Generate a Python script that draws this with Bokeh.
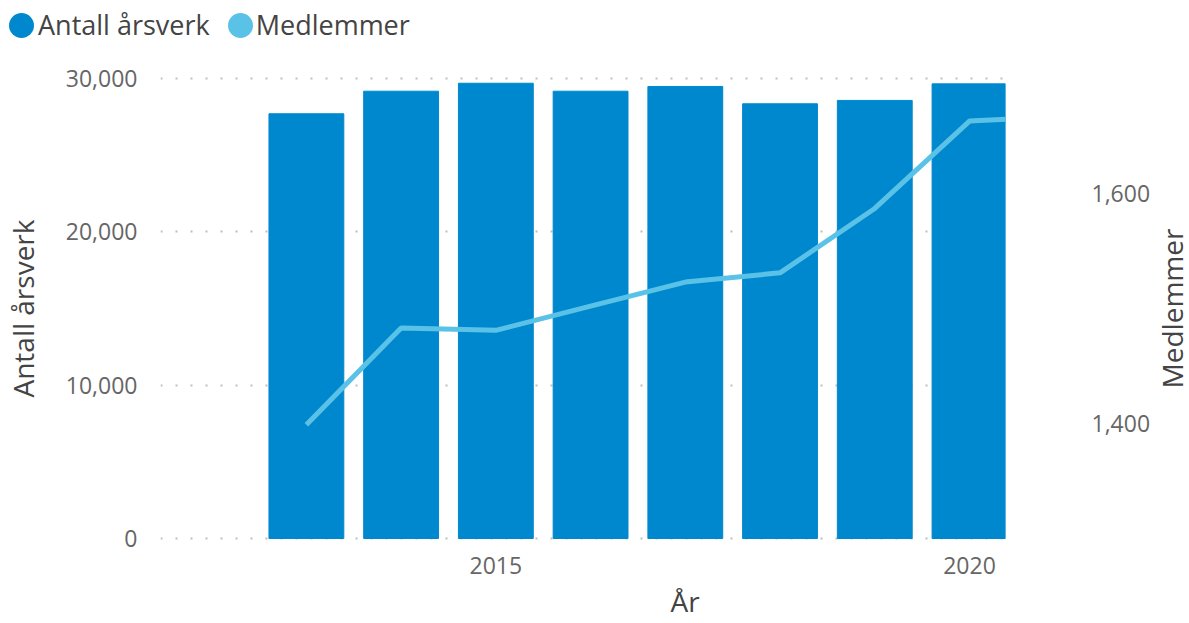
import math
from bokeh.plotting import figure
from bokeh.layouts import row, column
from bokeh.models import (Range1d, LinearAxis, FixedTicker, NumeralTickFormatter,
                          ColumnDataSource, Div, Title)
from bokeh.core.properties import value
from bokeh.embed import file_html
from bokeh.resources import INLINE

# ---- data ----
years = [2013, 2014, 2015, 2016, 2017, 2018, 2019, 2020]
arsverk = [27700, 29170, 29690, 29170, 29480, 28350, 28570, 29650]
line_years = [2013, 2014, 2015, 2016, 2017, 2018, 2019, 2020, 2021]
medlemmer = [1399, 1483, 1481, 1502, 1523, 1531, 1587, 1663, 1667]
left_ticks = [0, 10000, 20000, 30000]
right_ticks = [1400, 1600]
x_ticks = [2015, 2020]
series_names = ["Antall årsverk", "Medlemmer"]
x_title = "År"

BAR = "#0088CE"
LINE = "#5BC2E7"
FONT = "Open Sans"
TICK_C = "#666666"
TITLE_C = "#444444"

LEG_H = 50
SIDE_W = 36
MAIN_H = 623 - LEG_H

p = figure(width=1189 - SIDE_W, height=MAIN_H, output_backend="svg", toolbar_location=None,
           x_range=Range1d(2011.46, 2020.38), y_range=Range1d(-260, 30260),
           min_border_left=160, min_border_right=148, min_border_top=24,
           min_border_bottom=81)
p.outline_line_color = None
p.extra_y_ranges = {"m": Range1d(1296.5, 1703.5)}

src = ColumnDataSource(dict(x=years, top=arsverk))
p.vbar(x="x", top="top", width=0.79, bottom=0, color=BAR, source=src)
lsrc = ColumnDataSource(dict(x=line_years, y=medlemmer))
p.line(x="x", y="y", line_color=LINE, line_width=5, y_range_name="m", source=lsrc)

# axes
xa = p.xaxis[0]
xa.ticker = FixedTicker(ticks=x_ticks)
ya = p.yaxis[0]
ya.ticker = FixedTicker(ticks=left_ticks)
ya.formatter = NumeralTickFormatter(format="0,0")
ya.axis_label = series_names[0]

ra = LinearAxis(y_range_name="m", ticker=FixedTicker(ticks=right_ticks),
                formatter=NumeralTickFormatter(format="0,0"))
p.add_layout(ra, "right")

for ax in (xa, ya, ra):
    ax.axis_line_color = None
    ax.major_tick_line_color = None
    ax.minor_tick_line_color = None
    ax.major_label_text_font = FONT
    ax.major_label_text_font_size = "23px"
    ax.major_label_text_color = TICK_C
    ax.axis_label_text_font = FONT
    ax.axis_label_text_font_size = "28px"
    ax.axis_label_text_font_style = "normal"
    ax.axis_label_text_color = TITLE_C

xa.major_label_standoff = 8
ya.major_label_standoff = 17
ya.axis_label_standoff = 21
ra.major_label_standoff = 80

# x-axis title, placed right of centre as in the reference
p.add_layout(Title(text=x_title, align="left", offset=510, standoff=7,
                   text_font=FONT, text_font_size="28px", text_font_style="normal",
                   text_color=TITLE_C), "below")

p.xgrid.visible = False
p.ygrid.grid_line_color = "#bdbdbd"
p.ygrid.grid_line_dash = "2 13"
p.ygrid.grid_line_width = 2
p.ygrid.ticker = FixedTicker(ticks=left_ticks)

# right-hand axis title (reads bottom-to-top, centred on the plot area)
side = figure(width=SIDE_W, height=MAIN_H, output_backend="svg", toolbar_location=None,
              x_range=Range1d(0, 1), y_range=Range1d(0, 1), min_border=0)
side.axis.visible = False
side.grid.visible = False
side.outline_line_color = None
side.text(x=[0.5], y=[0.5], text=[series_names[1]], angle=math.pi / 2,
          text_align="center", text_baseline="middle",
          text_font=value(FONT), text_font_size="28px", text_color=TITLE_C)

# legend (circle markers + labels)
dot = ("display:inline-block;width:25px;height:25px;border-radius:50%;"
       "background:{c};margin-left:{m}px;flex:none")
legend_html = (
    f"<div style=\"display:flex;align-items:center;height:{LEG_H}px;"
    f"font-family:'{FONT}';font-size:27px;color:{TITLE_C};white-space:nowrap\">"
    f"<span style=\"{dot.format(c=BAR, m=9)}\"></span>"
    f"<span style=\"margin-left:4px\">{series_names[0]}</span>"
    f"<span style=\"{dot.format(c=LINE, m=18)}\"></span>"
    f"<span style=\"margin-left:3px\">{series_names[1]}</span>"
    "</div>"
)
legend = Div(text=legend_html, width=1189, height=LEG_H, margin=0)

layout = column(legend, row(p, side, spacing=0), spacing=0)
open("out.html", "w").write(file_html(layout, INLINE))
